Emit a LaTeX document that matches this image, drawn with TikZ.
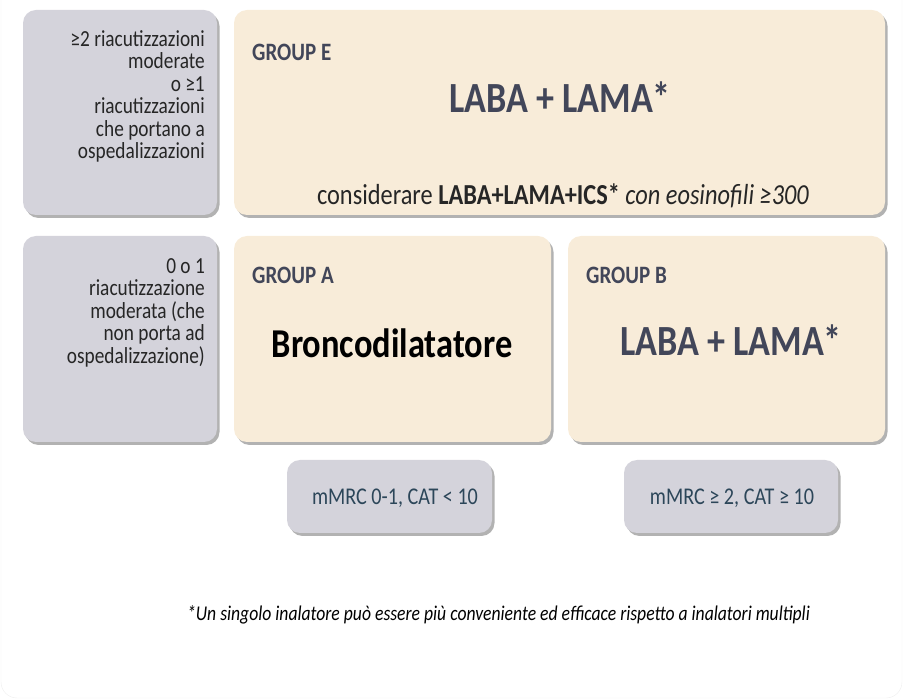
\documentclass[tikz,border=0pt]{standalone}
\usepackage{fontspec}
\setmainfont{Carlito}[FakeStretch=0.84]
\usepackage{xcolor}
\usepackage{tikz}
\usetikzlibrary{shadows}

\definecolor{boxgray}{HTML}{D4D3DB}
\definecolor{boxcream}{HTML}{F8ECD9}
\definecolor{slate}{HTML}{424659}
\definecolor{tealtext}{HTML}{2C4659}

\begin{document}
\begin{tikzpicture}[x=1pt, y=-1pt,
    panel/.style={rectangle, rounded corners=13pt, inner sep=0pt,
        drop shadow={shadow xshift=2.5pt, shadow yshift=-3pt, opacity=0.55, fill=black!55}},
    graybox/.style={panel, fill=boxgray},
    creambox/.style={panel, fill=boxcream},
    rowlabel/.style={anchor=north east, align=right, inner sep=0pt, text=black!85,
        font=\fontsize{23}{22.5}\selectfont},
    grouptitle/.style={anchor=base west, inner sep=0pt, text=slate,
        font=\fontsize{25}{28}\selectfont\bfseries},
    drug/.style={anchor=base, inner sep=0pt, text=slate,
        font=\fontsize{43}{46}\selectfont\bfseries}]
    \useasboundingbox (0,0) rectangle (903,700);
    % Outer frame (faint)
    \draw[black!7, rounded corners=16pt] (1,-20) -- (1,698) -- (902,698) -- (902,-20);

    % Left column: exacerbation history
    \node[graybox, minimum width=194pt, minimum height=205pt] (exahigh) at (120,112.5) {};
    \node[graybox, minimum width=194pt, minimum height=206pt] (exalow) at (120,339) {};
    \node[rowlabel] (exahightxt) at (205,30) {≥2 riacutizzazioni\\moderate\\o ≥1\\riacutizzazioni\\che portano a\\ospedalizzazioni};
    \node[rowlabel] (exalowtxt) at (205,258) {0 o 1\\riacutizzazione\\moderata (che\\non porta ad\\ospedalizzazione)};

    % Group E
    \node[creambox, minimum width=651pt, minimum height=205pt] (groupE) at (559.5,112.5) {};
    \node[grouptitle] (groupEtitle) at (252,61) {GROUP E};
    \node[drug] (groupEdrug) at (560,113) {LABA + LAMA*};
    \node[anchor=base, inner sep=0pt, font=\fontsize{29}{32}\selectfont, text=black!85] (groupEnote) at (563,205)
        {considerare \textbf{LABA+LAMA+ICS*} \textit{con eosinofili ≥300}};

    % Groups A and B
    \node[creambox, minimum width=317pt, minimum height=206pt] (groupA) at (392.5,339) {};
    \node[creambox, minimum width=317pt, minimum height=206pt] (groupB) at (726.5,339) {};
    \node[grouptitle] (groupAtitle) at (252,284) {GROUP A};
    \node[grouptitle] (groupBtitle) at (586,284) {GROUP B};
    \node[drug, text=black, font=\fontsize{41}{44}\selectfont\bfseries] (groupAdrug) at (392,358) {Broncodilatatore};
    \node[drug] (groupBdrug) at (731,356) {LABA + LAMA*};

    % Symptom boxes
    \node[graybox, minimum width=205pt, minimum height=73pt] (sympA) at (389.5,496.5) {};
    \node[graybox, minimum width=214pt, minimum height=73pt] (sympB) at (731,496.5) {};
    \node[anchor=base, inner sep=0pt, text=tealtext, font=\fontsize{24}{26}\selectfont] (sympAtxt) at (395,505) {mMRC 0-1, CAT < 10};
    \node[anchor=base, inner sep=0pt, text=tealtext, font=\fontsize{24}{26}\selectfont] (sympBtxt) at (732,505) {mMRC ≥ 2, CAT ≥ 10};

    % Footnote
    \node[anchor=base, inner sep=0pt, font=\fontsize{21}{24}\selectfont\itshape] (footnote) at (498.5,620)
        {*Un singolo inalatore può essere più conveniente ed efficace rispetto a inalatori multipli};
\end{tikzpicture}
\end{document}
